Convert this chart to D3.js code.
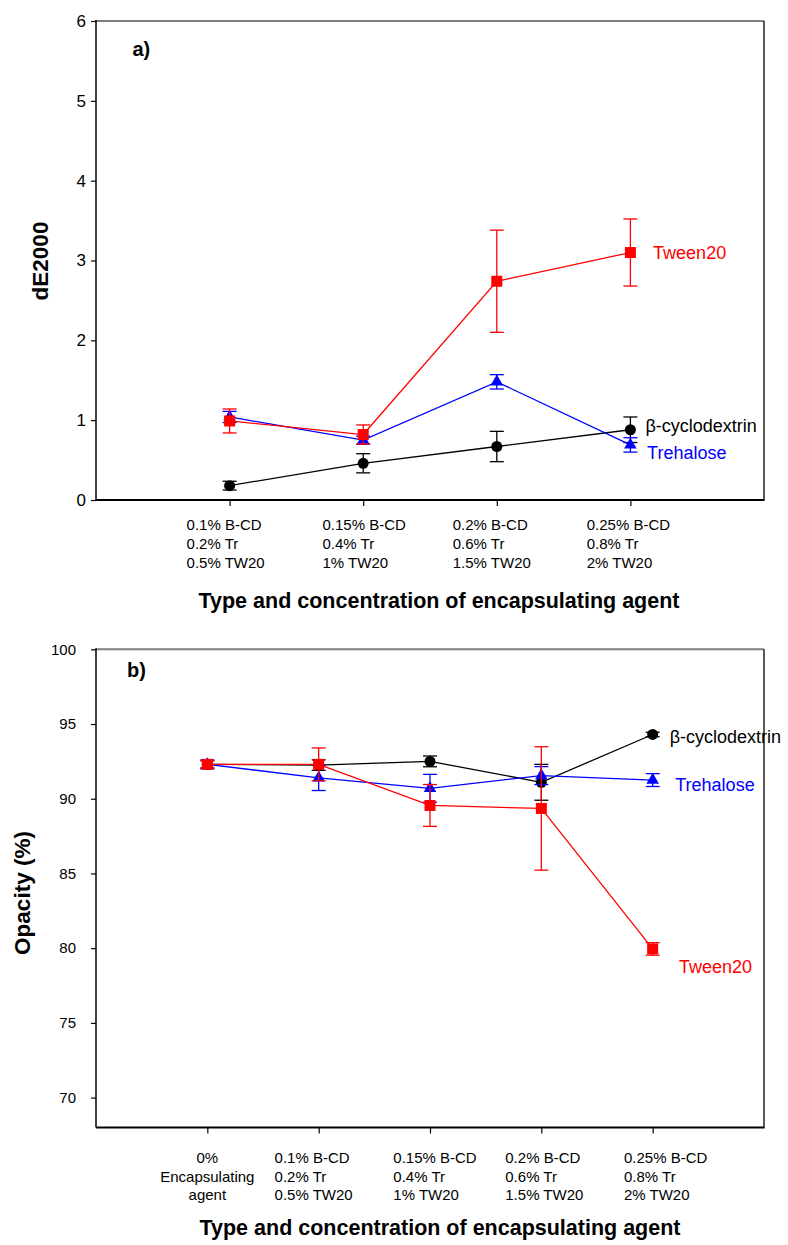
<!DOCTYPE html>
<html><head><meta charset="utf-8">
<script src="https://cdn.jsdelivr.net/npm/d3@7"></script>
<style>body{margin:0;background:#fff}</style>
</head><body>
<svg id="c" width="788" height="1245"></svg>
<script>
// ---------- data ----------
const seriesNames = ["β-cyclodextrin", "Trehalose", "Tween20"];

const catsA = [
  ["0.1% B-CD", "0.2% Tr", "0.5% TW20"],
  ["0.15% B-CD", "0.4% Tr", "1% TW20"],
  ["0.2% B-CD", "0.6% Tr", "1.5% TW20"],
  ["0.25% B-CD", "0.8% Tr", "2% TW20"]
];
const dE_bcd = [0.18, 0.46, 0.67, 0.88];
const dE_bcd_err = [0.055, 0.12, 0.19, 0.16];
const dE_tre = [1.04, 0.75, 1.48, 0.69];
const dE_tre_err = [0.07, 0.05, 0.09, 0.09];
const dE_tw = [0.99, 0.82, 2.74, 3.10];
const dE_tw_err = [0.15, 0.12, 0.64, 0.42];
const yTicksA = [0, 1, 2, 3, 4, 5, 6];

const catsB = [
  ["0%", "Encapsulating", "agent"],
  ["0.1% B-CD", "0.2% Tr", "0.5% TW20"],
  ["0.15% B-CD", "0.4% Tr", "1% TW20"],
  ["0.2% B-CD", "0.6% Tr", "1.5% TW20"],
  ["0.25% B-CD", "0.8% Tr", "2% TW20"]
];
const op_bcd = [92.3, 92.25, 92.5, 91.1, 94.3];
const op_bcd_err = [0.25, 0.35, 0.36, 1.2, 0.15];
const op_tre = [92.3, 91.4, 90.7, 91.55, 91.25];
const op_tre_err = [0.3, 0.85, 0.93, 0.6, 0.43];
const op_tw = [92.3, 92.3, 89.55, 89.35, 79.95];
const op_tw_err = [0.25, 1.1, 1.4, 4.13, 0.42];
const yTicksB = [70, 75, 80, 85, 90, 95, 100];

const xTitle = "Type and concentration of encapsulating agent";

// ---------- drawing ----------
const FONT = "'Liberation Sans', Arial, Helvetica, sans-serif";
const svg = d3.select("#c");
const colors = ["#000000", "#0000ff", "#ff0000"];
const markers = ["circle", "triangle", "square"];

function drawPanel(cfg) {
  const g = svg.append("g");
  const L = 96, R = 764;
  const n = cfg.cats.length;
  const x = d3.scaleLinear().domain([-1, n]).range([L, R]);
  const y = d3.scaleLinear().domain(cfg.yDomain).range([cfg.bottom, cfg.top]);

  // y axis
  const ya = g.append("g").attr("transform", `translate(${L},0)`)
    .call(d3.axisLeft(y).tickValues(cfg.yTicks).tickFormat(d3.format("d"))
      .tickSize(5).tickPadding(cfg.tickPad).tickSizeOuter(0));
  ya.select(".domain").remove();
  ya.selectAll("line").attr("stroke", "#000").attr("stroke-width", 1.2);
  ya.selectAll("text").attr("font-family", FONT).attr("font-size", cfg.yTickFont).attr("fill", "#000");

  // x axis ticks
  const xa = g.append("g").attr("transform", `translate(0,${cfg.bottom})`)
    .call(d3.axisBottom(x).tickValues(d3.range(n)).tickSize(6).tickFormat("").tickSizeOuter(0));
  xa.select(".domain").remove();
  xa.selectAll("line").attr("stroke", "#000").attr("stroke-width", 1.2);

  // frame
  g.append("line").attr("x1", L).attr("x2", R).attr("y1", cfg.top).attr("y2", cfg.top)
    .attr("stroke", "#808080").attr("stroke-width", 2);
  g.append("line").attr("x1", R).attr("x2", R).attr("y1", cfg.top).attr("y2", cfg.bottom)
    .attr("stroke", "#000").attr("stroke-width", 1.3);
  g.append("line").attr("x1", L).attr("x2", L).attr("y1", cfg.top - 1).attr("y2", cfg.bottom)
    .attr("stroke", "#000").attr("stroke-width", 1.5);
  g.append("line").attr("x1", L).attr("x2", R + 0.6).attr("y1", cfg.bottom).attr("y2", cfg.bottom)
    .attr("stroke", "#000").attr("stroke-width", 2);

  // category labels
  cfg.cats.forEach((lines, i) => {
    const cx = x(i);
    const align = cfg.catAlign[i];
    const tg = g.append("g");
    const ts = lines.map((s, k) => tg.append("text")
      .attr("font-family", FONT).attr("font-size", cfg.catFont).attr("fill", "#000")
      .attr("y", cfg.catY0 + k * cfg.catGap).text(s));
    if (align === "middle") {
      ts.forEach(t => t.attr("x", cx + cfg.catDx[i]).attr("text-anchor", "middle"));
    } else {
      const w = d3.max(ts, t => t.node().getComputedTextLength());
      ts.forEach(t => t.attr("x", cx - w / 2 + cfg.catDx[i]).attr("text-anchor", "start"));
    }
  });

  // titles
  g.append("text").attr("x", cfg.xTitleX).attr("y", cfg.xTitleY).attr("text-anchor", "middle")
    .attr("font-family", FONT).attr("font-weight", "bold").attr("font-size", cfg.xTitleFont)
    .text(xTitle);
  g.append("text").attr("transform", `translate(${cfg.yTitleX},${cfg.yTitleY}) rotate(-90)`)
    .attr("text-anchor", "middle")
    .attr("font-family", FONT).attr("font-weight", "bold").attr("font-size", cfg.yTitleFont)
    .text(cfg.yTitle);
  g.append("text").attr("x", cfg.tagX).attr("y", cfg.tagY)
    .attr("font-family", FONT).attr("font-weight", "bold").attr("font-size", 20).text(cfg.tag);

  // series
  cfg.series.forEach((s, si) => {
    const col = colors[si];
    const sg = g.append("g");
    const pts = s.vals.map((v, i) => ({ i, v, e: s.errs[i] }));
    // error bars
    pts.forEach(p => {
      sg.append("line").attr("x1", x(p.i)).attr("x2", x(p.i))
        .attr("y1", y(p.v - p.e)).attr("y2", y(p.v + p.e))
        .attr("stroke", col).attr("stroke-width", 1.3);
      [p.v - p.e, p.v + p.e].forEach(ev => {
        sg.append("line").attr("x1", x(p.i) - 7).attr("x2", x(p.i) + 7)
          .attr("y1", y(ev)).attr("y2", y(ev))
          .attr("stroke", col).attr("stroke-width", 1.3);
      });
    });
    // line
    sg.append("path").datum(pts)
      .attr("d", d3.line().x(p => x(p.i)).y(p => y(p.v)))
      .attr("fill", "none").attr("stroke", col).attr("stroke-width", 1.3);
    // markers
    const m = markers[si];
    pts.forEach(p => {
      if (m === "circle") {
        sg.append("circle").attr("cx", x(p.i)).attr("cy", y(p.v)).attr("r", 5.5).attr("fill", col);
      } else if (m === "square") {
        sg.append("rect").attr("x", x(p.i) - 5.5).attr("y", y(p.v) - 5.5)
          .attr("width", 11).attr("height", 11).attr("fill", col);
      } else {
        sg.append("path").attr("d", d3.symbol(d3.symbolTriangle, 68)())
          .attr("transform", `translate(${x(p.i)},${y(p.v)})`).attr("fill", col);
      }
    });
    // series label
    const last = pts[pts.length - 1];
    sg.append("text")
      .attr("x", x(last.i) + cfg.labelOff[si][0])
      .attr("y", y(last.v) + cfg.labelOff[si][1])
      .attr("dy", "0.35em")
      .attr("font-family", FONT).attr("font-size", 18).attr("fill", col)
      .text(seriesNames[si]);
  });
}

drawPanel({
  top: 21, bottom: 500, yDomain: [0, 6], yTicks: yTicksA,
  yTickFont: 17, tickPad: 5,
  cats: catsA, catAlign: ["start", "start", "start", "start"], catDx: [-4, 1, -5, -2],
  catFont: 15, catY0: 529.5, catGap: 19,
  xTitleX: 439, xTitleY: 608, xTitleFont: 21.5,
  yTitle: "dE2000", yTitleX: 48, yTitleY: 261, yTitleFont: 22.5,
  tag: "a)", tagX: 132.5, tagY: 56,
  series: [
    { vals: dE_bcd, errs: dE_bcd_err },
    { vals: dE_tre, errs: dE_tre_err },
    { vals: dE_tw, errs: dE_tw_err }
  ],
  labelOff: [[15, -4], [16.7, 8], [22.7, 0]]
});

drawPanel({
  top: 649.3, bottom: 1127.5, yDomain: [68, 100], yTicks: yTicksB,
  yTickFont: 15, tickPad: 15,
  cats: catsB, catAlign: ["middle", "start", "start", "start", "start"], catDx: [0, -5, 5, 3, 13],
  catFont: 15, catY0: 1163, catGap: 18.5,
  xTitleX: 440, xTitleY: 1235, xTitleFont: 21.5,
  yTitle: "Opacity (%)", yTitleX: 30, yTitleY: 893, yTitleFont: 22.5,
  tag: "b)", tagX: 127, tagY: 677,
  series: [
    { vals: op_bcd, errs: op_bcd_err },
    { vals: op_tre, errs: op_tre_err },
    { vals: op_tw, errs: op_tw_err }
  ],
  labelOff: [[17, 2], [22.6, 5], [26.4, 17.4]]
});
</script>
</body></html>
